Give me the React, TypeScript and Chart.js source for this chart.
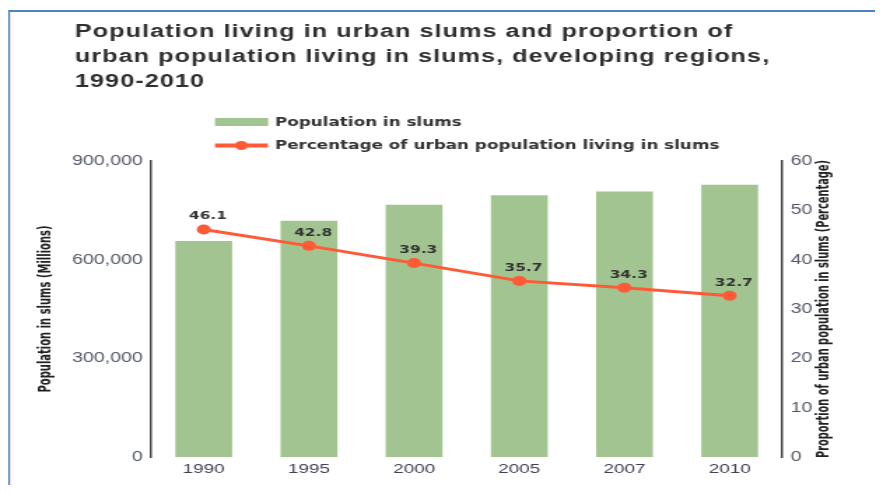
import React, { useEffect, useRef } from 'react';
import { Chart, registerables } from 'chart.js';

Chart.register(...registerables);

// ---------- data ----------
const TITLE_LINES = [
  'Population living in urban slums and proportion of',
  'urban population living in slums, developing regions,',
  '1990-2010',
];
const YEARS = ['1990', '1995', '2000', '2005', '2007', '2010'];
const SLUM_POPULATION = [656739, 718114, 766762, 795739, 806910, 827690];
const SLUM_PERCENTAGE = [46.1, 42.8, 39.3, 35.7, 34.3, 32.7];
const LEFT_TICKS = [0, 300000, 600000, 900000];
const RIGHT_TICKS = [0, 10, 20, 30, 40, 50, 60];
const SERIES_LABELS = ['Population in slums', 'Percentage of urban population living in slums'];
const LEFT_AXIS_TITLE = 'Population in slums (Millions)';
const RIGHT_AXIS_TITLE = 'Proportion of urban population in slums (Percentage)';

// ---------- layout / style ----------
const PAGE_W = 883;
const PAGE_H = 493;
const LOGICAL_W = 631;
const STRETCH = PAGE_W / LOGICAL_W;
const BAR_COLOR = '#a2c490';
const LINE_COLOR = '#ff5a36';
const TEXT_DARK = '#333333';
const TICK_COLOR = '#555a66';
const LEFT_TITLE_LEN = 167;
const RIGHT_TITLE_LEN = 298;

const decorPlugin = {
  id: 'decor',
  beforeDraw(chart: any) {
    const ctx = chart.ctx;
    ctx.save();
    ctx.fillStyle = '#ffffff';
    ctx.fillRect(0, 0, chart.width, chart.height);
    // frame
    ctx.fillStyle = '#4f81bd';
    ctx.fillRect(5.7, 10, 1.5, chart.height);
    ctx.fillRect(5.7, 10, chart.width, 2);
    // title
    ctx.fillStyle = '#2f2f2f';
    ctx.font = 'bold 18px "Liberation Sans", Arial, sans-serif';
    (ctx as any).letterSpacing = '0.75px';
    ctx.textAlign = 'left';
    ctx.textBaseline = 'alphabetic';
    TITLE_LINES.forEach((t, i) => ctx.fillText(t, 53.6, 37 + i * 25));
    (ctx as any).letterSpacing = '0px';
    // legend
    const [barDs, lineDs] = chart.data.datasets;
    ctx.fillStyle = barDs.backgroundColor;
    ctx.fillRect(153.6, 118, 38, 8);
    ctx.strokeStyle = lineDs.borderColor;
    ctx.lineWidth = 4;
    ctx.beginPath();
    ctx.moveTo(153.6, 145.5);
    ctx.lineTo(191.4, 145.5);
    ctx.stroke();
    ctx.fillStyle = lineDs.borderColor;
    ctx.beginPath();
    ctx.arc(172.5, 145.5, 4.5, 0, Math.PI * 2);
    ctx.fill();
    ctx.fillStyle = TEXT_DARK;
    ctx.font = 'bold 12px "DejaVu Sans", sans-serif';
    ctx.textBaseline = 'middle';
    ctx.fillText(barDs.label, 196.4, 122.5);
    ctx.fillText(lineDs.label, 196.4, 145.5);
    ctx.restore();
  },
  afterDatasetsDraw(chart: any) {
    const ctx = chart.ctx;
    const meta = chart.getDatasetMeta(1);
    const data = chart.data.datasets[1].data;
    ctx.save();
    ctx.fillStyle = TEXT_DARK;
    ctx.font = 'bold 11px "DejaVu Sans", sans-serif';
    ctx.textAlign = 'center';
    ctx.textBaseline = 'middle';
    meta.data.forEach((pt: any, i: number) => {
      ctx.fillText(String(data[i]), pt.x + 3, pt.y - 13);
    });
    ctx.restore();
  },
  afterDraw(chart: any) {
    const ctx = chart.ctx;
    const { top, bottom } = chart.chartArea;
    const cy = (top + bottom) / 2;
    ctx.save();
    ctx.fillStyle = '#222222';
    ctx.font = 'bold 12px "Liberation Sans Narrow", "DejaVu Sans Condensed", sans-serif';
    ctx.textAlign = 'center';
    ctx.textBaseline = 'middle';
    const drawRot = (text: string, x: number, len: number) => {
      const w = ctx.measureText(text).width;
      ctx.save();
      ctx.translate(x, cy);
      ctx.rotate(-Math.PI / 2);
      ctx.scale(len / w, 1);
      ctx.fillText(text, 0, 0);
      ctx.restore();
    };
    drawRot(LEFT_AXIS_TITLE, 32.9, LEFT_TITLE_LEN);
    drawRot(RIGHT_AXIS_TITLE, 589.3, RIGHT_TITLE_LEN);
    ctx.restore();
  },
};

export default function App() {
  const canvasRef = useRef<HTMLCanvasElement | null>(null);

  useEffect(() => {
    if (!canvasRef.current) return;
    const chart = new Chart(canvasRef.current, {
      type: 'bar',
      data: {
        labels: YEARS,
        datasets: [
          {
            type: 'bar',
            label: SERIES_LABELS[0],
            data: SLUM_POPULATION,
            backgroundColor: BAR_COLOR,
            borderWidth: 0,
            yAxisID: 'y',
            barPercentage: 0.54,
            categoryPercentage: 1,
            order: 2,
          },
          {
            type: 'line',
            label: SERIES_LABELS[1],
            data: SLUM_PERCENTAGE,
            borderColor: LINE_COLOR,
            backgroundColor: LINE_COLOR,
            borderWidth: 3,
            pointRadius: 5,
            pointBorderWidth: 0,
            pointBackgroundColor: LINE_COLOR,
            tension: 0,
            yAxisID: 'y1',
            order: 1,
          } as any,
        ],
      },
      options: {
        animation: false,
        responsive: false,
        devicePixelRatio: 1,
        layout: { padding: { top: 161, bottom: 0, left: 0, right: 0 } },
        plugins: {
          legend: { display: false },
          title: { display: false },
          tooltip: { enabled: false },
        },
        scales: {
          x: {
            type: 'category',
            grid: { display: false, drawTicks: false },
            border: { display: false },
            ticks: {
              color: '#3f3f55',
              font: { family: '"Liberation Sans", Arial, sans-serif', size: 13.5 },
              padding: 4,
              maxRotation: 0,
            },
            afterFit: (s: any) => {
              s.height = 36;
            },
          },
          y: {
            position: 'left',
            min: LEFT_TICKS[0],
            max: LEFT_TICKS[LEFT_TICKS.length - 1],
            afterBuildTicks: (s: any) => {
              s.ticks = LEFT_TICKS.map((v) => ({ value: v }));
            },
            grid: { display: false, drawTicks: false },
            border: { display: true, color: '#444444', width: 1.5 },
            ticks: {
              color: TICK_COLOR,
              font: { family: '"Liberation Sans", Arial, sans-serif', size: 14 },
              padding: 6,
              callback: (v: any) => Number(v).toLocaleString('en-US'),
            },
            afterFit: (s: any) => {
              s.width = 108;
            },
          },
          y1: {
            position: 'right',
            min: RIGHT_TICKS[0],
            max: RIGHT_TICKS[RIGHT_TICKS.length - 1],
            afterBuildTicks: (s: any) => {
              s.ticks = RIGHT_TICKS.map((v) => ({ value: v }));
            },
            grid: { display: false, drawTicks: false },
            border: { display: true, color: '#444444', width: 1.5 },
            ticks: {
              color: TICK_COLOR,
              font: { family: '"Liberation Sans", Arial, sans-serif', size: 14 },
              padding: 6,
            },
            afterFit: (s: any) => {
              s.width = 72;
            },
          },
        },
      } as any,
      plugins: [decorPlugin],
    });
    return () => chart.destroy();
  }, []);

  return (
    <div
      style={{
        position: 'relative',
        width: PAGE_W,
        height: PAGE_H,
        margin: -8,
        overflow: 'hidden',
        background: '#ffffff',
      }}
    >
      <canvas
        ref={canvasRef}
        width={LOGICAL_W}
        height={PAGE_H}
        style={{
          display: 'block',
          width: LOGICAL_W + 'px',
          height: PAGE_H + 'px',
          transform: `scaleX(${STRETCH})`,
          transformOrigin: '0 0',
        }}
      />
    </div>
  );
}
